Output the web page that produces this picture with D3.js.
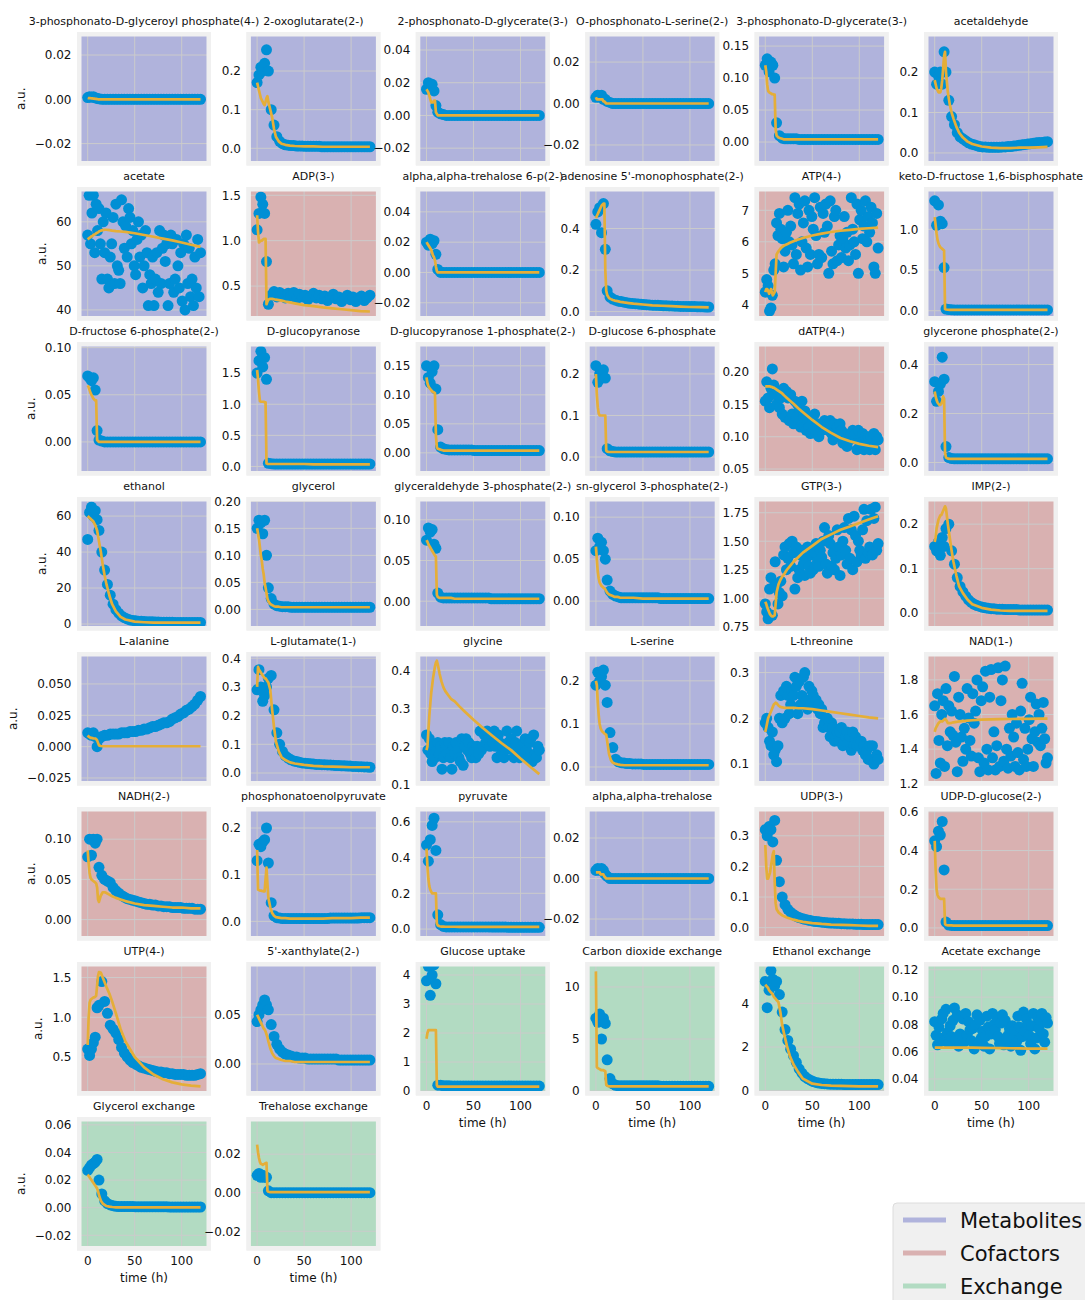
<!DOCTYPE html>
<html>
<head>
<meta charset="utf-8">
<title>Metabolite time courses</title>
<script src="https://d3js.org/d3.v7.min.js"></script>
<style>
  body { margin: 0; background: #fff; }
  text { font-family: "DejaVu Sans", sans-serif; fill: #111; }
</style>
</head>
<body>
<script>
// ---- data ----------------------------------------------------------------
var titles = [
  "3-phosphonato-D-glyceroyl phosphate(4-)", "2-oxoglutarate(2-)", "2-phosphonato-D-glycerate(3-)",
  "O-phosphonato-L-serine(2-)", "3-phosphonato-D-glycerate(3-)", "acetaldehyde",
  "acetate", "ADP(3-)", "alpha,alpha-trehalose 6-p(2-)",
  "adenosine 5'-monophosphate(2-)", "ATP(4-)", "keto-D-fructose 1,6-bisphosphate",
  "D-fructose 6-phosphate(2-)", "D-glucopyranose", "D-glucopyranose 1-phosphate(2-)",
  "D-glucose 6-phosphate", "dATP(4-)", "glycerone phosphate(2-)",
  "ethanol", "glycerol", "glyceraldehyde 3-phosphate(2-)",
  "sn-glycerol 3-phosphate(2-)", "GTP(3-)", "IMP(2-)",
  "L-alanine", "L-glutamate(1-)", "glycine",
  "L-serine", "L-threonine", "NAD(1-)",
  "NADH(2-)", "phosphonatoenolpyruvate", "pyruvate",
  "alpha,alpha-trehalose", "UDP(3-)", "UDP-D-glucose(2-)",
  "UTP(4-)", "5'-xanthylate(2-)", "Glucose uptake",
  "Carbon dioxide exchange", "Ethanol exchange", "Acetate exchange",
  "Glycerol exchange", "Trehalose exchange"
];

// M = metabolite, C = cofactor, E = exchange
var groups = [
  "M","M","M","M","M","M",
  "M","C","M","M","C","M",
  "M","M","M","M","C","M",
  "M","M","M","M","C","C",
  "M","M","M","M","M","C",
  "C","M","M","M","C","C",
  "C","M","E","E","E","E",
  "E","E"
];
var legendLabels = ["Metabolites", "Cofactors", "Exchange"];
var legendGroups = ["M", "C", "E"];

var yLimits = [
  [-0.0299, 0.0304], [-0.0445, 0.301], [-0.0306, 0.051], [-0.0299, 0.0345], [-0.0367, 0.172], [-0.031, 0.299],
  [37.6, 67.9], [0.121, 1.591], [-0.0317, 0.0564], [-0.043, 0.6], [3.5, 7.74], [-0.12, 1.52],
  [-0.0356, 0.106], [-0.145, 2.0], [-0.039, 0.191], [-0.0446, 0.277], [0.04, 0.2466], [-0.053, 0.492],
  [-3.6, 70.6], [-0.039, 0.208], [-0.036, 0.128], [-0.035, 0.124], [0.717, 1.888], [-0.039, 0.261],
  [-0.031, 0.0755], [-0.0436, 0.4216], [0.097, 0.448], [-0.043, 0.267], [0.053, 0.345], [1.19, 1.961],
  [-0.026, 0.140], [-0.041, 0.245], [-0.064, 0.683], [-0.0306, 0.0353], [-0.042, 0.394], [-0.065, 0.625],
  [0.015, 1.696], [-0.032, 0.1035], [-0.155, 4.45], [-0.43, 12.4], [-0.22, 5.89], [0.0279, 0.1257],
  [-0.031, 0.0657], [-0.030, 0.0393]
];

var yTicks = [
  [-0.02,0,0.02], [0,0.1,0.2], [-0.02,0,0.02,0.04], [-0.02,0,0.02], [0,0.05,0.1,0.15], [0,0.1,0.2],
  [40,50,60], [0.5,1.0,1.5], [-0.02,0,0.02,0.04], [0,0.2,0.4], [4,5,6,7], [0,0.5,1.0],
  [0,0.05,0.1], [0,0.5,1,1.5], [0,0.05,0.1,0.15], [0,0.1,0.2], [0.05,0.1,0.15,0.2], [0,0.2,0.4],
  [0,20,40,60], [0,0.05,0.1,0.15,0.2], [0,0.05,0.1], [0,0.05,0.1], [0.75,1,1.25,1.5,1.75], [0,0.1,0.2],
  [-0.025,0,0.025,0.05], [0,0.1,0.2,0.3,0.4], [0.1,0.2,0.3,0.4], [0,0.1,0.2], [0.1,0.2,0.3], [1.2,1.4,1.6,1.8],
  [0,0.05,0.1], [0,0.1,0.2], [0,0.2,0.4,0.6], [-0.02,0,0.02], [0,0.1,0.2,0.3], [0,0.2,0.4,0.6],
  [0.5,1,1.5], [0,0.05], [0,1,2,3,4], [0,5,10], [0,2,4], [0.04,0.06,0.08,0.1,0.12],
  [-0.02,0,0.02,0.04,0.06], [-0.02,0,0.02]
];
var yDecimals = [
  2,1,2,2,2,1,
  0,1,2,1,0,1,
  2,1,2,1,2,1,
  0,2,2,2,2,1,
  3,1,1,1,1,1,
  2,1,1,2,1,1,
  1,2,0,0,0,2,
  2,2
];
var xTicks = [0, 50, 100];

var dotTimes = [0,2,4,6,8,10,12,15,18,21,24,27,30,33,36,39,42,45,48,51,54,57,60,63,66,69,72,75,78,81,84,87,90,93,96,99,102,105,108,111,114,117,120];
// denser sampling used by the noisy panels
var dotTimesFine = [0,1.5,3,4.5,6,7.5,9,10.5,12,13.5,15,16.5,18,19.5,21,22.5,24,25.5,27,28.5,30,31.5,33,34.5,36,37.5,39,40.5,42,43.5,45,46.5,48,49.5,51,52.5,54,55.5,57,58.5,60,61.5,63,64.5,66,67.5,69,70.5,72,73.5,75,76.5,78,79.5,81,82.5,84,85.5,87,88.5,90,91.5,93,94.5,96,97.5,99,100.5,102,103.5,105,106.5,108,109.5,111,112.5,114,115.5,117,118.5,120];
var lineTimes = [0,1,2,3,4,5,6,7,8,9,10,11,12,14,16,18,20,23,26,30,35,40,50,60,70,80,90,100,110,120];

// measured points (blue dots), one list per panel
var dotValues = [
  [.0008,.0012,.0009,.0011,.0007,.0004,.0002, 0,0,0,0,0,0, 0,0,0,0,0,0, 0,0,0,0,0,0, 0,0,0,0,0,0, 0,0,0,0,0,0, 0,0,0,0,0,0],
  [.17,.19,.21,.2,.22,.255,.2, .1,.06,.03,.018,.012,.009, .008,.007,.007,.006,.006,.006, .005,.005,.005,.005,.005,.005, .004,.004,.004,.004,.004,.004, .004,.004,.004,.004,.004,.004, .004,.004,.004,.004,.004,.004],
  [.016,.02,.018,.019,.015,.006,.002, .001,.0005,0,0,0,0, 0,0,0,0,0,0, 0,0,0,0,0,0, 0,0,0,0,0,0, 0,0,0,0,0,0, 0,0,0,0,0,0],
  [.003,.004,.003,.004,.002,.002,.001, .0005,0,0,0,0,0, 0,0,0,0,0,0, 0,0,0,0,0,0, 0,0,0,0,0,0, 0,0,0,0,0,0, 0,0,0,0,0,0],
  [.12,.13,.11,.125,.12,.1,.03, .01,.006,.005,.005,.005,.005, .005,.004,.004,.004,.004,.004, .004,.004,.004,.004,.004,.004, .004,.004,.004,.004,.004,.004, .004,.004,.004,.004,.004,.004, .004,.004,.004,.004,.004,.004],
  [.2,.17,.19,.2,.17,.25,.2, .13,.09,.07,.05,.04,.035, .03,.025,.022,.02,.018,.016, .015,.015,.014,.014,.014,.014, .014,.015,.015,.016,.016,.017, .018,.019,.02,.021,.022,.023, .024,.025,.026,.026,.027,.028],
  [57,66,55,62,66,53,64, 58,63,55,47,60,53,62, 47,45,52,55,61,46, 64,50,49,46,65,60,54, 59,52,63,61,55,58,50, 48,56,60,52,57,45,
   50,58,53,41,48,46,52, 41,47,53,44,58,46,54, 57,51,55,41,46,57, 55,44,47,56,50,45,53, 42,55,40,57,46,54,43, 47,41,52,45,56,43,53],
  [1.12,1.3,1.48,1.4,1.3,.77,.3, .4,.44,.38,.43,.41,.37, .42,.39,.43,.36,.41,.38, .4,.35,.39,.42,.37,.4, .36,.39,.34,.38,.41,.36, .38,.33,.37,.4,.35,.38, .33,.36,.39,.34,.37,.4],
  [.02,.018,.022,.019,.021,.012,.002, 0,0,0,0,0,0, 0,0,0,0,0,0, 0,0,0,0,0,0, 0,0,0,0,0,0, 0,0,0,0,0,0, 0,0,0,0,0,0],
  [.42,.48,.5,.38,.52,.3,.1, .07,.06,.055,.05,.048,.045, .043,.04,.039,.038,.037,.035, .034,.033,.032,.031,.03,.03, .029,.028,.028,.027,.027,.026, .026,.025,.025,.025,.024,.024, .024,.023,.023,.023,.022,.022],
  [4.4,4.8,4.6,3.8,3.9,4.3,5.1, 5.3,6.6,6.2,6.9,6.4,6.1,5.2, 5.7,6.3,7.0,6.0,6.5,5.9, 5.3,7.4,5.6,6.9,7.2,5.1,6.0, 6.6,7.3,5.8,5.2,7.0,5.6,6.8, 6.4,7.4,6.2,5.3,5.6,7.1,
   5.5,6.9,6.3,7.2,6.5,5.0,7.3, 5.7,5.3,6.8,7.0,5.4,5.9,6.2, 5.5,6.1,6.8,5.8,6.3,5.4, 5.9,7.4,6.4,6.0,5.6,7.2,5.0, 6.7,7.0,6.1,6.5,7.3,6.0,6.8, 6.3,7.1,6.6,5.2,5.0,6.9,5.8],
  [1.35,1.05,1.3,1.1,1.07,.53,.02, .015,.012,.01,.01,.01,.01, .01,.01,.01,.01,.01,.01, .01,.01,.01,.01,.01,.01, .01,.01,.01,.01,.01,.01, .01,.01,.01,.01,.01,.01, .01,.01,.01,.01,.01,.01],
  [.07,.068,.065,.068,.055,.012,.002, .001,0,0,0,0,0, 0,0,0,0,0,0, 0,0,0,0,0,0, 0,0,0,0,0,0, 0,0,0,0,0,0, 0,0,0,0,0,0],
  [1.5,1.7,1.85,1.6,1.75,1.4,.05, .045,.04,.04,.04,.04,.04, .04,.04,.04,.04,.04,.04, .04,.04,.04,.04,.04,.04, .04,.04,.04,.04,.04,.04, .04,.04,.04,.04,.04,.04, .04,.04,.04,.04,.04,.04],
  [.15,.13,.12,.14,.15,.11,.04, .01,.007,.006,.005,.005,.005, .005,.005,.005,.005,.005,.005, .004,.004,.004,.004,.004,.004, .004,.004,.004,.004,.004,.004, .004,.004,.004,.004,.004,.004, .004,.004,.004,.004,.004,.004],
  [.22,.18,.2,.19,.21,.19,.02, .015,.013,.012,.012,.012,.012, .012,.012,.012,.012,.012,.012, .012,.012,.012,.012,.012,.012, .012,.012,.012,.012,.012,.012, .012,.012,.012,.012,.012,.012, .012,.012,.012,.012,.012,.012],
  [.155,.185,.16,.145,.175,.205,.18, .165,.15,.17,.145,.16,.135,.175, .13,.17,.16,.125,.165,.135, .12,.155,.13,.15,.145,.115,.155, .13,.14,.11,.125,.115,.105,.13, .11,.135,.105,.12,.1,.115,
   .11,.12,.125,.115,.12,.11,.125, .105,.095,.12,.1,.115,.105,.12, .11,.09,.105,.095,.085,.1, .095,.105,.11,.1,.105,.08,.11, .09,.085,.105,.08,.1,.085,.1, .08,.1,.085,.105,.08,.1,.095],
  [.33,.25,.29,.32,.43,.34,.065, .02,.016,.015,.015,.015,.015, .015,.015,.015,.015,.015,.015, .015,.015,.015,.015,.015,.015, .015,.015,.015,.015,.015,.015, .015,.015,.015,.015,.015,.015, .015,.015,.015,.015,.015,.015],
  [47,62,65,60,63,58,52, 40,30,22,16,11,8, 6,4.5,3.5,2.8,2.3,2, 1.8,1.6,1.5,1.4,1.3,1.2, 1.2,1.1,1.1,1,1,1, 1,1,.9,.9,.9,.9, .9,.9,.9,.9,.9,.9],
  [.15,.165,.16,.14,.165,.1,.04, .02,.01,.007,.006,.005,.005, .005,.004,.004,.004,.004,.004, .004,.004,.004,.004,.004,.004, .004,.004,.004,.004,.004,.004, .004,.004,.004,.004,.004,.004, .004,.004,.004,.004,.004,.004],
  [.075,.09,.085,.088,.07,.065,.01, .005,.004,.004,.004,.004,.004, .004,.004,.004,.004,.004,.004, .004,.004,.004,.004,.004,.004, .003,.003,.003,.003,.003,.003, .003,.003,.003,.003,.003,.003, .003,.003,.003,.003,.003,.003],
  [.06,.075,.065,.07,.06,.05,.025, .012,.008,.006,.005,.004,.004, .004,.004,.004,.004,.004,.004, .004,.004,.004,.004,.004,.004, .003,.003,.003,.003,.003,.003, .003,.003,.003,.003,.003,.003, .003,.003,.003,.003,.003,.003],
  [.95,.88,.82,1.08,1.18,.85,1.1, 1.32,1.12,.95,1.05,1.15,1.02,1.38, 1.45,1.25,1.35,1.48,1.28,1.5, 1.4,1.08,1.45,1.18,1.25,1.38,1.42, 1.3,1.2,1.35,1.45,1.28,1.22,1.38, 1.25,1.4,1.48,1.32,1.28,1.42,
   1.36,1.5,1.62,1.3,1.22,1.55,1.48, 1.28,1.4,1.25,1.35,1.6,1.45,1.2, 1.38,1.5,1.62,1.42,1.3,1.7, 1.35,1.6,1.25,1.72,1.55,1.32,1.5, 1.42,1.38,1.6,1.78,1.35,1.68,1.4, 1.45,1.78,1.38,1.7,1.8,1.42,1.48],
  [.15,.14,.16,.13,.17,.15,.19, .2,.14,.11,.08,.06,.048, .038,.03,.024,.02,.017,.015, .013,.012,.011,.01,.01,.009, .009,.009,.008,.008,.008,.008, .008,.007,.007,.007,.007,.007, .007,.007,.007,.007,.007,.007],
  [.011,.01,.009,.011,.008,0,.006, .008,.009,.009,.01,.01,.01, .01,.011,.011,.011,.012,.012, .012,.013,.013,.014,.014,.015, .016,.016,.017,.018,.019,.019, .02,.022,.023,.024,.026,.027, .029,.03,.032,.034,.037,.04],
  [.29,.36,.3,.25,.27,.3,.33, .34,.22,.14,.1,.075,.06, .052,.046,.042,.04,.037,.035, .034,.033,.032,.031,.03,.03, .029,.029,.028,.028,.027,.026, .026,.025,.025,.024,.024,.023, .023,.022,.022,.021,.021,.02],
  [.23,.19,.22,.18,.16,.2,.17, .19,.21,.18,.2,.14,.17,.21, .2,.18,.21,.17,.14,.2, .18,.21,.19,.17,.16,.22,.15, .2,.22,.19,.21,.18,.17,.2, .19,.17,.2,.18,.24,.19,
   .2,.23,.21,.24,.22,.2,.23, .21,.24,.2,.17,.23,.21,.18, .2,.17,.19,.24,.21,.2, .22,.19,.17,.21,.24,.18,.17, .2,.18,.21,.22,.19,.17,.21, .22,.16,.23,.18,.17,.2,.19],
  [.19,.22,.2,.21,.225,.19,.15, .08,.045,.018,.012,.01,.009, .008,.008,.007,.007,.007,.007, .006,.006,.006,.006,.006,.006, .006,.006,.006,.006,.006,.006, .006,.006,.006,.006,.006,.006, .006,.006,.006,.006,.006,.006],
  [.19,.2,.18,.15,.14,.17,.12, .13,.105,.14,.2,.25,.19,.26, .2,.27,.25,.21,.23,.26, .25,.29,.27,.21,.28,.23,.25, .29,.3,.24,.22,.27,.23,.26, .25,.23,.24,.22,.23,.21,
   .22,.18,.19,.2,.2,.18,.16, .19,.18,.15,.16,.17,.15,.17, .18,.14,.15,.16,.17,.15, .16,.13,.17,.14,.16,.14,.15, .14,.15,.13,.14,.12,.13,.11, .14,.11,.14,.1,.11,.12,.11],
  [1.65,1.26,1.72,1.45,1.32,1.6,1.68, 1.3,1.75,1.42,1.65,1.5,1.62,1.48, 1.82,1.44,1.27,1.7,1.6,1.47, 1.33,1.52,1.4,1.75,1.58,1.45,1.36, 1.72,1.55,1.62,1.8,1.35,1.27,1.68, 1.76,1.32,1.85,1.4,1.28,1.7,
   1.86,1.35,1.5,1.28,1.42,1.87,1.3, 1.68,1.8,1.33,1.88,1.4,1.29,1.52, 1.36,1.6,1.47,1.3,1.55,1.38, 1.28,1.62,1.78,1.34,1.52,1.3,1.4, 1.57,1.7,1.46,1.3,1.5,1.66,1.44, 1.6,1.42,1.52,1.67,1.46,1.32,1.35],
  [.078,.1,.08,.1,.095,.1,.065, .055,.05,.048,.046,.04,.036, .033,.03,.028,.026,.025,.024, .023,.022,.021,.02,.019,.019, .018,.018,.017,.017,.016,.016, .016,.015,.015,.015,.015,.014, .014,.014,.014,.013,.013,.013],
  [.13,.165,.16,.17,.175,.2,.125, .04,.012,.008,.007,.006,.006, .006,.006,.006,.006,.006,.006, .006,.006,.006,.006,.006,.006, .006,.006,.006,.007,.007,.007, .007,.007,.007,.007,.007,.007, .007,.007,.008,.008,.008,.008],
  [.47,.38,.5,.58,.62,.44,.08, .025,.015,.012,.012,.012,.012, .012,.012,.012,.012,.012,.012, .012,.012,.012,.012,.012,.012, .011,.011,.011,.011,.011,.011, .01,.01,.01,.01,.01,.01, .01,.01,.01,.01,.01,.01],
  [.004,.005,.004,.005,.004,.002,.001, 0,0,0,0,0,0, 0,0,0,0,0,0, 0,0,0,0,0,0, 0,0,0,0,0,0, 0,0,0,0,0,0, 0,0,0,0,0,0],
  [.32,.3,.33,.32,.28,.35,.22, .15,.1,.075,.06,.05,.043, .037,.033,.03,.027,.025,.023, .021,.02,.019,.018,.017,.016, .015,.015,.014,.014,.013,.013, .012,.012,.012,.011,.011,.011, .01,.01,.01,.01,.01,.01],
  [.45,.42,.5,.48,.55,.3,.03, .015,.013,.012,.012,.012,.012, .012,.012,.012,.012,.012,.012, .012,.012,.012,.012,.012,.012, .012,.012,.012,.012,.012,.012, .012,.012,.012,.012,.012,.012, .012,.012,.012,.012,.012,.012],
  [.6,.52,.6,.68,.75,1.12,1.15, 1.45,1.2,1.05,.9,.85,.8, .72,.62,.55,.5,.46,.43, .41,.39,.37,.36,.35,.34, .33,.32,.31,.31,.3,.3, .29,.29,.28,.28,.28,.28, .27,.27,.27,.27,.28,.29],
  [.043,.05,.055,.06,.065,.06,.055, .04,.028,.02,.015,.012,.01, .009,.008,.007,.007,.006,.006, .006,.005,.005,.005,.005,.005, .005,.005,.005,.005,.005,.005, .004,.004,.004,.004,.004,.004, .004,.004,.004,.004,.004,.004],
  [3.8,4.3,3.3,4,4.35,3.7,.2, .2,.18,.18,.18,.17,.17, .17,.17,.17,.17,.17,.17, .17,.17,.17,.17,.17,.17, .17,.17,.17,.17,.17,.17, .17,.17,.17,.17,.17,.17, .17,.17,.17,.17,.17,.17],
  [7,6.6,7.4,5,7,6.5,3, 1.2,.7,.55,.5,.5,.5, .5,.5,.5,.5,.5,.5, .5,.5,.5,.5,.5,.5, .45,.45,.45,.45,.45,.45, .45,.45,.45,.45,.45,.45, .45,.45,.45,.45,.45,.45],
  [5,3.8,4.6,5.5,5.1,4.8,5, 4.4,3.6,2.8,2.3,1.9,1.6, 1.3,1,.8,.65,.55,.48, .42,.38,.35,.33,.32,.31, .3,.3,.29,.29,.29,.28, .28,.28,.28,.28,.28,.28, .28,.28,.28,.28,.28,.28],
  [.082,.072,.065,.078,.07,.084,.088, .068,.091,.074,.066,.079,.071,.083, .092,.069,.087,.064,.073,.086, .084,.067,.088,.072,.082,.076,.068, .077,.062,.08,.087,.066,.083,.07, .075,.064,.071,.086,.078,.062,
   .073,.088,.08,.076,.085,.071,.066, .081,.087,.065,.083,.069,.072,.077, .064,.079,.07,.076,.067,.086, .078,.061,.071,.089,.075,.084,.08, .072,.066,.079,.088,.062,.07,.085, .077,.083,.088,.073,.067,.085,.081],
  [.027,.029,.031,.032,.033,.035,.02, .01,.005,.003,.002,.0015,.001, .0008,.0008,.0008,.0008,.0008,.0008, .0006,.0006,.0006,.0006,.0006,.0006, .0006,.0006,.0006,.0006,.0006,.0006, .0005,.0005,.0005,.0005,.0005,.0005, .0005,.0005,.0005,.0005,.0005,.0005],
  [.009,.01,.008,.009,.008,.008,.001, 0,0,0,0,0,0, 0,0,0,0,0,0, 0,0,0,0,0,0, 0,0,0,0,0,0, 0,0,0,0,0,0, 0,0,0,0,0,0]
];

// model curves (orange), one list per panel, at lineTimes
var lineValues = [
  [.0006,.0005,.0005,.0005,.0004,.0004,.0003,.0003,.0002,.0002, .0001,0,0,0,0,0,0,0,0,0, 0,0,0,0,0,0,0,0,0,0],
  [.17,.16,.15,.14,.13,.125,.12,.115,.112,.12, .13,.135,.12,.1,.08,.05,.03,.018,.012,.009, .007,.006,.005,.005,.004,.004,.004,.004,.004,.004],
  [.016,.015,.014,.012,.01,.008,.008,.008,.009,.009, .002,.001,0,0,0,0,0,0,0,0, 0,0,0,0,0,0,0,0,0,0],
  [.003,.002,.002,.002,.002,.002,.002,.002,.001,.001, .0005,0,0,0,0,0,0,0,0,0, 0,0,0,0,0,0,0,0,0,0],
  [.12,.11,.09,.08,.078,.077,.076,.075,.075,.074, .074,.02,.01,.007,.006,.005,.004,.004,.004,.004, .004,.004,.004,.004,.004,.004,.004,.004,.004,.004],
  [.18,.17,.16,.155,.15,.15,.15,.16,.18,.21, .24,.25,.2,.15,.12,.1,.085,.065,.05,.038, .028,.022,.016,.013,.012,.012,.013,.013,.014,.015],
  [56,56.2,56.4,56.5,56.7,56.8,57,57.1,57.2,57.4, 57.5,57.6,57.8,58,58.1,58.2,58.2,58.1,58,57.9, 57.8,57.7,57.4,57,56.6,56.2,55.8,55.3,54.8,54.3],
  [1.28,1.1,.98,.99,1.0,1.0,1.01,1.02,1.02,1.02, .3,.33,.35,.36,.36,.355,.35,.345,.34,.33, .32,.31,.29,.28,.265,.255,.245,.235,.225,.22],
  [.02,.019,.018,.017,.016,.015,.013,.011,.01,.008, .004,.001,0,0,0,0,0,0,0,0, 0,0,0,0,0,0,0,0,0,0],
  [.45,.46,.47,.48,.49,.5,.51,.515,.52,.52, .2,.1,.08,.065,.06,.056,.053,.05,.047,.044, .041,.038,.034,.03,.028,.026,.024,.022,.021,.02],
  [4.4,4.5,4.5,4.45,4.35,4.4,4.5,4.4,4.3,4.35, 4.4,5.0,5.6,5.7,5.78,5.84,5.88,5.92,5.97,6.02, 6.07,6.12,6.2,6.26,6.31,6.35,6.38,6.41,6.43,6.45],
  [1.15,1.05,.95,.87,.83,.8,.78,.77,.76,.75, .74,.02,.015,.012,.01,.01,.01,.01,.01,.01, .01,.01,.01,.01,.01,.01,.01,.01,.01,.01],
  [.06,.058,.055,.052,.05,.048,.046,.045,.044,.044, .002,.001,0,0,0,0,0,0,0,0, 0,0,0,0,0,0,0,0,0,0],
  [1.55,1.4,1.2,1.05,1.04,1.04,1.04,1.04,1.03,1.03, .05,.04,.04,.04,.04,.04,.04,.04,.04,.04, .04,.04,.04,.035,.035,.035,.035,.035,.035,.035],
  [.13,.12,.115,.112,.11,.108,.106,.105,.104,.103, .03,.01,.007,.006,.005,.004,.004,.004,.004,.004, .004,.004,.004,.004,.004,.004,.004,.004,.004,.004],
  [.2,.15,.12,.105,.1,.1,.1,.1,.1,.1, .1,.015,.013,.012,.012,.012,.012,.012,.012,.012, .012,.012,.012,.012,.012,.012,.012,.012,.012,.012],
  [.177,.178,.178,.178,.178,.178,.177,.177,.176,.176, .175,.174,.173,.171,.169,.167,.164,.16,.156,.151, .144,.138,.126,.115,.106,.098,.093,.089,.086,.084],
  [.29,.27,.255,.245,.24,.235,.235,.24,.25,.27, .26,.04,.02,.016,.015,.015,.015,.015,.015,.015, .015,.015,.015,.015,.015,.015,.015,.015,.015,.015],
  [60,59.5,59,58.5,58,57.5,57,56,55,53.5, 52,49,46,40,33,27,22,16,11,7, 4,2.5,1.3,1,.8,.8,.8,.8,.8,.8],
  [.15,.14,.13,.115,.1,.09,.075,.065,.05,.04, .03,.02,.015,.01,.008,.006,.005,.005,.004,.004, .004,.004,.004,.004,.004,.004,.004,.004,.004,.004],
  [.075,.073,.07,.068,.066,.064,.062,.06,.058,.056, .055,.008,.005,.004,.004,.004,.004,.004,.004,.003, .003,.003,.003,.003,.003,.003,.003,.003,.003,.003],
  [.065,.05,.035,.027,.022,.02,.018,.017,.016,.015, .014,.012,.01,.008,.007,.006,.005,.005,.004,.004, .004,.004,.003,.003,.003,.003,.003,.003,.003,.003],
  [.97,.95,.92,.9,.88,.86,.85,.84,.84,.845, .85,.95,1.05,1.12,1.16,1.19,1.21,1.25,1.28,1.32, 1.36,1.4,1.46,1.52,1.56,1.6,1.63,1.66,1.69,1.72],
  [.16,.17,.19,.2,.21,.215,.22,.22,.225,.23, .235,.24,.235,.2,.17,.14,.115,.085,.06,.045, .03,.02,.012,.008,.006,.005,.005,.005,.005,.005],
  [.009,.008,.0075,.007,.007,.0068,.0066,.0065,.0065,.006, .005,.003,.001,.0005,.0003,.0003,.0003,.0003,.0003,.0003, .0003,.0003,.0003,.0003,.0003,.0003,.0003,.0003,.0003,.0003],
  [.3,.37,.36,.355,.35,.345,.34,.335,.33,.33, .325,.32,.315,.29,.22,.16,.11,.075,.055,.045, .037,.033,.028,.025,.023,.022,.021,.02,.02,.02],
  [.19,.2,.24,.28,.31,.34,.36,.38,.395,.41, .42,.425,.415,.39,.37,.355,.345,.335,.325,.318, .305,.293,.27,.248,.228,.208,.19,.168,.147,.127],
  [.2,.19,.15,.12,.1,.09,.085,.082,.08,.078, .076,.075,.06,.03,.016,.01,.008,.006,.005,.004, .004,.004,.004,.004,.004,.004,.004,.004,.004,.004],
  [.17,.18,.19,.2,.205,.21,.215,.22,.225,.23, .232,.234,.233,.228,.225,.224,.223,.223,.223,.223, .222,.222,.22,.217,.214,.211,.208,.205,.202,.2],
  [1.5,1.52,1.53,1.54,1.55,1.555,1.56,1.56,1.56,1.565, 1.57,1.575,1.57,1.55,1.55,1.552,1.555,1.557,1.56,1.562, 1.565,1.567,1.57,1.572,1.573,1.574,1.575,1.575,1.576,1.576],
  [.086,.07,.058,.052,.05,.049,.048,.047,.046,.045, .04,.025,.022,.03,.034,.034,.033,.031,.029,.027, .025,.023,.02,.018,.017,.016,.015,.015,.014,.014],
  [.153,.068,.067,.066,.066,.065,.065,.064,.064,.09, .115,.08,.05,.03,.018,.012,.009,.008,.007,.007, .006,.006,.006,.006,.006,.007,.007,.007,.008,.008],
  [.45,.35,.28,.24,.22,.21,.2,.2,.2,.2, .2,.03,.02,.016,.014,.014,.013,.013,.013,.013, .012,.012,.012,.012,.012,.012,.012,.012,.012,.012],
  [.003,.003,.003,.003,.003,.002,.002,.002,.002,.001, .0005,0,0,0,0,0,0,0,0,0, 0,0,0,0,0,0,0,0,0,0],
  [.27,.2,.16,.16,.17,.18,.2,.22,.24,.25, .15,.08,.06,.05,.045,.04,.037,.033,.03,.026, .022,.019,.015,.012,.01,.009,.008,.007,.006,.006],
  [.45,.3,.2,.17,.16,.155,.15,.15,.15,.15, .15,.02,.015,.013,.013,.013,.012,.012,.012,.012, .012,.012,.012,.012,.012,.012,.012,.012,.012,.012],
  [.65,1.0,1.18,1.22,1.23,1.24,1.25,1.25,1.26,1.27, 1.4,1.52,1.57,1.56,1.5,1.44,1.38,1.3,1.2,1.05, .85,.7,.5,.37,.28,.22,.18,.155,.14,.13],
  [.05,.048,.046,.044,.042,.04,.038,.036,.035,.033, .03,.027,.023,.016,.011,.008,.006,.005,.004,.003, .003,.002,.002,.002,.002,.002,.002,.002,.002,.002],
  [1.8,2.0,2.1,2.1,2.1,2.1,2.1,2.1,2.1,2.1, 2.1,.2,.15,.15,.15,.15,.15,.15,.15,.15, .15,.15,.15,.15,.15,.15,.15,.15,.15,.15],
  [11.5,2.3,2.2,2.15,2.1,2.05,2.0,2.0,2.0,1.95, 1.9,.6,.5,.45,.45,.45,.45,.45,.45,.45, .45,.45,.45,.45,.45,.45,.45,.45,.45,.45],
  [4.85,4.8,4.75,4.7,4.6,4.55,4.5,4.45,4.4,4.3, 4.25,4.2,4.15,4.05,3.6,3.0,2.6,2.05,1.6,1.2, .85,.55,.32,.26,.23,.22,.21,.2,.2,.2],
  [.063,.063,.063,.063,.063,.063,.063,.063,.063,.063, .063,.063,.063,.063,.063,.063,.063,.063,.063,.063, .063,.063,.0628,.0627,.0626,.0625,.0624,.0623,.0622,.0622],
  [.024,.023,.022,.021,.02,.019,.018,.017,.016,.015, .014,.012,.009,.005,.003,.002,.0012,.0008,.0005,.0003, .0003,.0003,.0003,.0003,.0003,.0003,.0003,.0003,.0003,.0003],
  [.025,.021,.018,.016,.015,.0148,.0145,.0148,.015,.0153, .0155,.001,.0005,.0003,.0003,.0003,.0003,.0003,.0003,.0003, .0003,.0003,.0003,.0003,.0003,.0003,.0003,.0003,.0003,.0003]
];

// ---- drawing -------------------------------------------------------------
var width = 1085, height = 1300;
var ncol = 6;
var left0 = 77, top0 = 32, colStep = 169.4, rowStep = 155;
var boxW = 134, boxH = 133.5, edge = 4.5;

var fillColor = { M: "#b0b3dc", C: "#d9b1b1", E: "#b2dbc2" };
var dotColor = "#008fd5", lineColor = "#e5ae38";
var frameColor = "#f0f0f0", gridColor = "#cbcbcb";

var svg = d3.select("body").append("svg")
    .attr("width", width)
    .attr("height", height);

svg.append("rect").attr("width", width).attr("height", height).attr("fill", "#fff");

titles.forEach(function(title, i) {
  var col = i % ncol, row = Math.floor(i / ncol);
  var x0 = left0 + col * colStep, y0 = top0 + row * rowStep;

  var x = d3.scaleLinear().domain([-11.38, 131.17]).range([x0, x0 + boxW]);
  var y = d3.scaleLinear().domain(yLimits[i]).range([y0 + boxH, y0]);

  var g = svg.append("g");

  g.append("rect")
      .attr("x", x0).attr("y", y0)
      .attr("width", boxW).attr("height", boxH)
      .attr("fill", frameColor);

  g.append("clipPath").attr("id", "clip" + i)
    .append("rect")
      .attr("x", x0 + edge / 2).attr("y", y0 + edge / 2)
      .attr("width", boxW - edge).attr("height", boxH - edge);

  var plot = g.append("g").attr("clip-path", "url(#clip" + i + ")");

  plot.append("rect")
      .attr("x", x0).attr("y", y0)
      .attr("width", boxW).attr("height", boxH)
      .attr("fill", fillColor[groups[i]]);

  plot.selectAll(".vgrid")
    .data(xTicks)
    .enter().append("line")
      .attr("x1", function(d) { return x(d); })
      .attr("x2", function(d) { return x(d); })
      .attr("y1", y0).attr("y2", y0 + boxH)
      .attr("stroke", gridColor).attr("stroke-width", 1);

  plot.selectAll(".hgrid")
    .data(yTicks[i])
    .enter().append("line")
      .attr("x1", x0).attr("x2", x0 + boxW)
      .attr("y1", function(d) { return y(d); })
      .attr("y2", function(d) { return y(d); })
      .attr("stroke", gridColor).attr("stroke-width", 1);

  var vals = dotValues[i];
  var times = vals.length === dotTimesFine.length ? dotTimesFine : dotTimes;

  plot.selectAll("circle")
    .data(vals)
    .enter().append("circle")
      .attr("cx", function(d, k) { return x(times[k]); })
      .attr("cy", function(d) { return y(d); })
      .attr("r", 5.5)
      .attr("fill", dotColor);

  var line = d3.line()
      .x(function(d, k) { return x(lineTimes[k]); })
      .y(function(d) { return y(d); });

  plot.append("path")
      .datum(lineValues[i])
      .attr("d", line)
      .attr("fill", "none")
      .attr("stroke", lineColor)
      .attr("stroke-width", 2.7)
      .attr("stroke-linejoin", "round");

  // thick light spine
  g.append("rect")
      .attr("x", x0 + edge / 2).attr("y", y0 + edge / 2)
      .attr("width", boxW - edge).attr("height", boxH - edge)
      .attr("fill", "none")
      .attr("stroke", frameColor)
      .attr("stroke-width", edge);

  var fmt = d3.format("." + yDecimals[i] + "f");
  var tickLabels = g.selectAll(".ytick")
    .data(yTicks[i])
    .enter().append("text")
      .attr("x", x0 - 5.5)
      .attr("y", function(d) { return y(d); })
      .attr("dy", "0.36em")
      .attr("text-anchor", "end")
      .attr("font-size", "12px")
      .text(function(d) { return fmt(d); });

  g.append("text")
      .attr("x", x0 + boxW / 2)
      .attr("y", y0 - 7)
      .attr("text-anchor", "middle")
      .attr("font-size", "11px")
      .text(title);

  if (col === 0) {
    var maxW = 0;
    tickLabels.each(function() { maxW = Math.max(maxW, this.getComputedTextLength()); });
    var lx = x0 - 5.5 - maxW - 10;
    g.append("text")
        .attr("transform", "translate(" + lx + "," + (y0 + boxH / 2) + ") rotate(-90)")
        .attr("text-anchor", "middle")
        .attr("font-size", "12px")
        .text("a.u.");
  }

  if (i + ncol >= titles.length) {
    g.selectAll(".xtick")
      .data(xTicks)
      .enter().append("text")
        .attr("x", function(d) { return x(d); })
        .attr("y", y0 + boxH + 14.5)
        .attr("text-anchor", "middle")
        .attr("font-size", "12px")
        .text(function(d) { return d; });
    g.append("text")
        .attr("x", x0 + boxW / 2)
        .attr("y", y0 + boxH + 31)
        .attr("text-anchor", "middle")
        .attr("font-size", "12px")
        .text("time (h)");
  }
});

// legend
var legend = svg.append("g").attr("transform", "translate(893,1203)");
legend.append("rect")
    .attr("width", 200).attr("height", 104)
    .attr("rx", 4)
    .attr("fill", "#f0f0f0")
    .attr("stroke", "#dcdcdc");

legendLabels.forEach(function(label, k) {
  var cy = 17 + k * 33;
  legend.append("line")
      .attr("x1", 10).attr("x2", 53)
      .attr("y1", cy).attr("y2", cy)
      .attr("stroke", fillColor[legendGroups[k]])
      .attr("stroke-width", 5);
  legend.append("text")
      .attr("x", 67).attr("y", cy)
      .attr("dy", "0.36em")
      .attr("font-size", "21px")
      .text(label);
});
</script>
</body>
</html>
